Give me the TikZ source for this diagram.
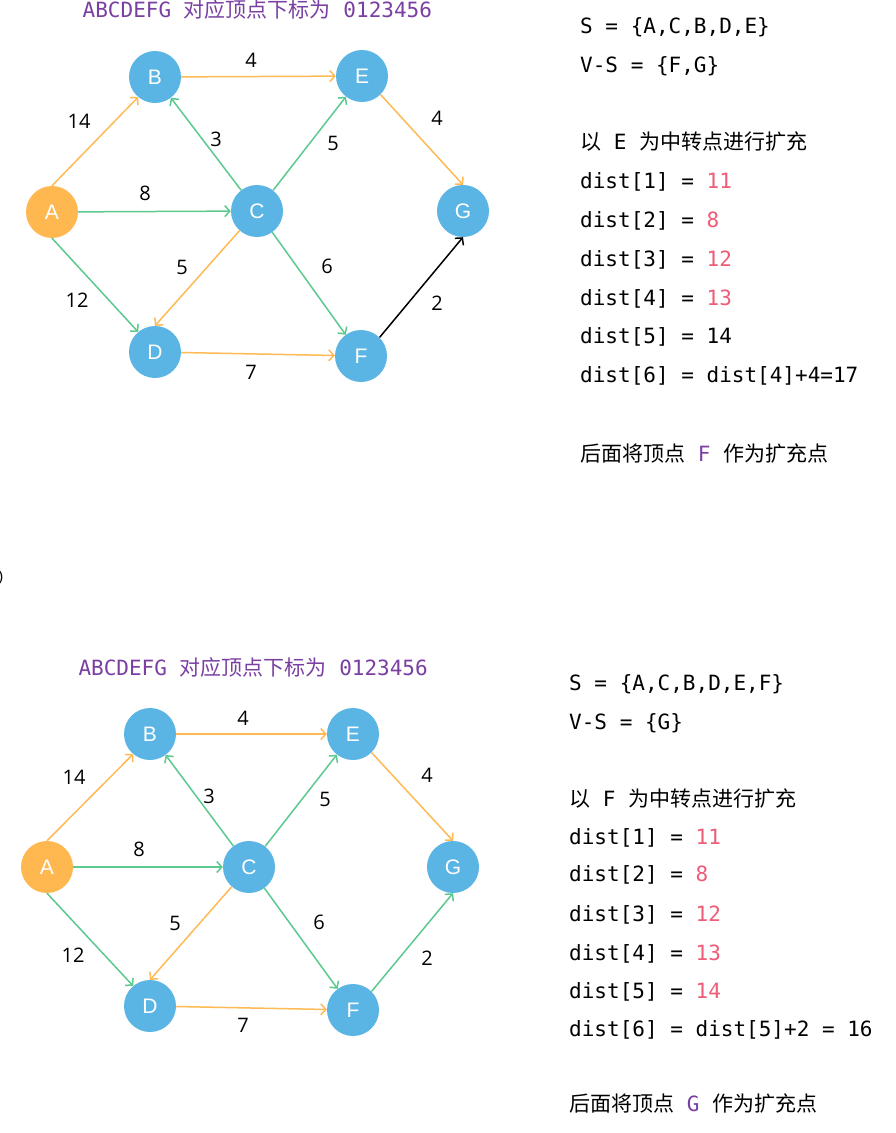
\documentclass[tikz,border=0pt]{standalone}
\usepackage{fontspec}
\setmainfont{Liberation Sans}
\newfontfamily\mono{DejaVu Sans Mono}
\newfontfamily\cjk{Noto Sans CJK SC}
\newfontfamily\lbl{Open Sans}
\usetikzlibrary{arrows.meta}
\definecolor{nodeblue}{HTML}{5AB5E4}
\definecolor{nodeorange}{HTML}{FFB84F}
\definecolor{edgeorange}{HTML}{FFBA55}
\definecolor{edgegreen}{HTML}{5CC98E}
\definecolor{numred}{HTML}{EE5C78}
\definecolor{titlepurple}{HTML}{7A3FA3}
\newcommand\cj[1]{{\cjk #1}}
\newcommand\rd[1]{\textcolor{numred}{#1}}
\newcommand\pu[1]{\textcolor{titlepurple}{#1}}
\tikzset{
 vtx/.style={circle, fill=nodeblue, minimum size=52pt, inner sep=0pt, text=white, font=\fontsize{21}{21}\selectfont},
 src/.style={vtx, fill=nodeorange},
 edge/.style={line width=1.5pt, -{Straight Barb[length=5pt,width=11pt]}},
 oe/.style={edge, draw=edgeorange},
 ge/.style={edge, draw=edgegreen},
 be/.style={edge, draw=black},
 wt/.style={font=\lbl\fontsize{20}{20}\selectfont, inner sep=0pt},
 txt/.style={anchor=base west, inner sep=0pt, font=\mono\fontsize{21}{21}\selectfont},
}
\begin{document}
\begin{tikzpicture}[x=1pt,y=-1pt]
\useasboundingbox[fill=white] (0,0) rectangle (895,1133);
% ---------- top ----------
\node[txt, text=titlepurple] (ttitle) at (82.5,17) {ABCDEFG \cj{对应顶点下标为} 0123456};
\node[vtx] (tB) at (155,77) {B};
\node[vtx] (tE) at (362,76) {E};
\node[src] (tA) at (52,212) {A};
\node[vtx] (tC) at (257,211) {C};
\node[vtx] (tG) at (463,211) {G};
\node[vtx] (tD) at (155,352) {D};
\node[vtx] (tF) at (361,356) {F};
\draw[oe] (tA.north) -- (tB.230);
\draw[oe] (tB) -- (tE);
\draw[ge] (tC) -- (tB);
\draw[ge] (tC) -- (tE);
\draw[oe] (tE.-45) -- (tG.north);
\draw[ge] (tA) -- (tC);
\draw[ge] (tA.south) -- (tD.130);
\draw[oe] (tC) -- (tD.north);
\draw[ge] (tC) -- (tF);
\draw[oe] (tD) -- (tF);
\draw[be] (tF.45) -- (tG.south);
\node[wt] (tw1) at (79,121) {14};
\node[wt] (tw2) at (251,60) {4};
\node[wt] (tw3) at (216,139) {3};
\node[wt] (tw4) at (333,143) {5};
\node[wt] (tw5) at (437,118) {4};
\node[wt] (tw6) at (145,193) {8};
\node[wt] (tw7) at (77,300) {12};
\node[wt] (tw8) at (182,267) {5};
\node[wt] (tw9) at (327,266) {6};
\node[wt] (tw10) at (437,303) {2};
\node[wt] (tw11) at (251,372) {7};
\node[txt] (tr1) at (580,33.3) {S = \{A,C,B,D,E\}};
\node[txt] (tr2) at (580,72.7) {V-S = \{F,G\}};
\node[txt] (tr3) at (580,149.5) {\cj{以} E \cj{为中转点进行扩充}};
\node[txt] (tr4) at (580,188.5) {dist[1] = \rd{11}};
\node[txt] (tr5) at (580,227) {dist[2] = \rd{8}};
\node[txt] (tr6) at (580,266) {dist[3] = \rd{12}};
\node[txt] (tr7) at (580,305) {dist[4] = \rd{13}};
\node[txt] (tr8) at (580,343.5) {dist[5] = 14};
\node[txt] (tr9) at (580,382.5) {dist[6] = dist[4]+4=17};
\node[txt] (tr10) at (580,461.5) {\cj{后面将顶点} \pu{F} \cj{作为扩充点}};
\node[anchor=east, inner sep=0pt, font=\fontsize{15}{15}\selectfont] (paren) at (3.5,578) {)};
% ---------- bottom ----------
\node[txt, text=titlepurple] (btitle) at (78.3,675) {ABCDEFG \cj{对应顶点下标为} 0123456};
\node[vtx] (bB) at (150,734) {B};
\node[vtx] (bE) at (353,734) {E};
\node[src] (bA) at (47,867) {A};
\node[vtx] (bC) at (249,867) {C};
\node[vtx] (bG) at (453,867) {G};
\node[vtx] (bD) at (150,1006) {D};
\node[vtx] (bF) at (353,1010) {F};
\draw[oe] (bA.north) -- (bB.230);
\draw[oe] (bB) -- (bE);
\draw[ge] (bC) -- (bB);
\draw[ge] (bC) -- (bE);
\draw[oe] (bE.-45) -- (bG.north);
\draw[ge] (bA) -- (bC);
\draw[ge] (bA.south) -- (bD.130);
\draw[oe] (bC) -- (bD.north);
\draw[ge] (bC) -- (bF);
\draw[oe] (bD) -- (bF);
\draw[ge] (bF.45) -- (bG.south);
\node[wt] (bw1) at (74,777) {14};
\node[wt] (bw2) at (243,718) {4};
\node[wt] (bw3) at (209,796) {3};
\node[wt] (bw4) at (325,799) {5};
\node[wt] (bw5) at (427,775) {4};
\node[wt] (bw6) at (139,849) {8};
\node[wt] (bw7) at (73,955) {12};
\node[wt] (bw8) at (175,923) {5};
\node[wt] (bw9) at (319,922) {6};
\node[wt] (bw10) at (427,958) {2};
\node[wt] (bw11) at (243,1025) {7};
\node[txt] (br1) at (569,690.7) {S = \{A,C,B,D,E,F\}};
\node[txt] (br2) at (569,729.3) {V-S = \{G\}};
\node[txt] (br3) at (569,806.7) {\cj{以} F \cj{为中转点进行扩充}};
\node[txt] (br4) at (569,844.3) {dist[1] = \rd{11}};
\node[txt] (br5) at (569,881.7) {dist[2] = \rd{8}};
\node[txt] (br6) at (569,921.7) {dist[3] = \rd{12}};
\node[txt] (br7) at (569,960) {dist[4] = \rd{13}};
\node[txt] (br8) at (569,998.3) {dist[5] = \rd{14}};
\node[txt] (br9) at (569,1036.7) {dist[6] = dist[5]+2 = 16};
\node[txt] (br10) at (569,1111.7) {\cj{后面将顶点} \pu{G} \cj{作为扩充点}};
\end{tikzpicture}
\end{document}
